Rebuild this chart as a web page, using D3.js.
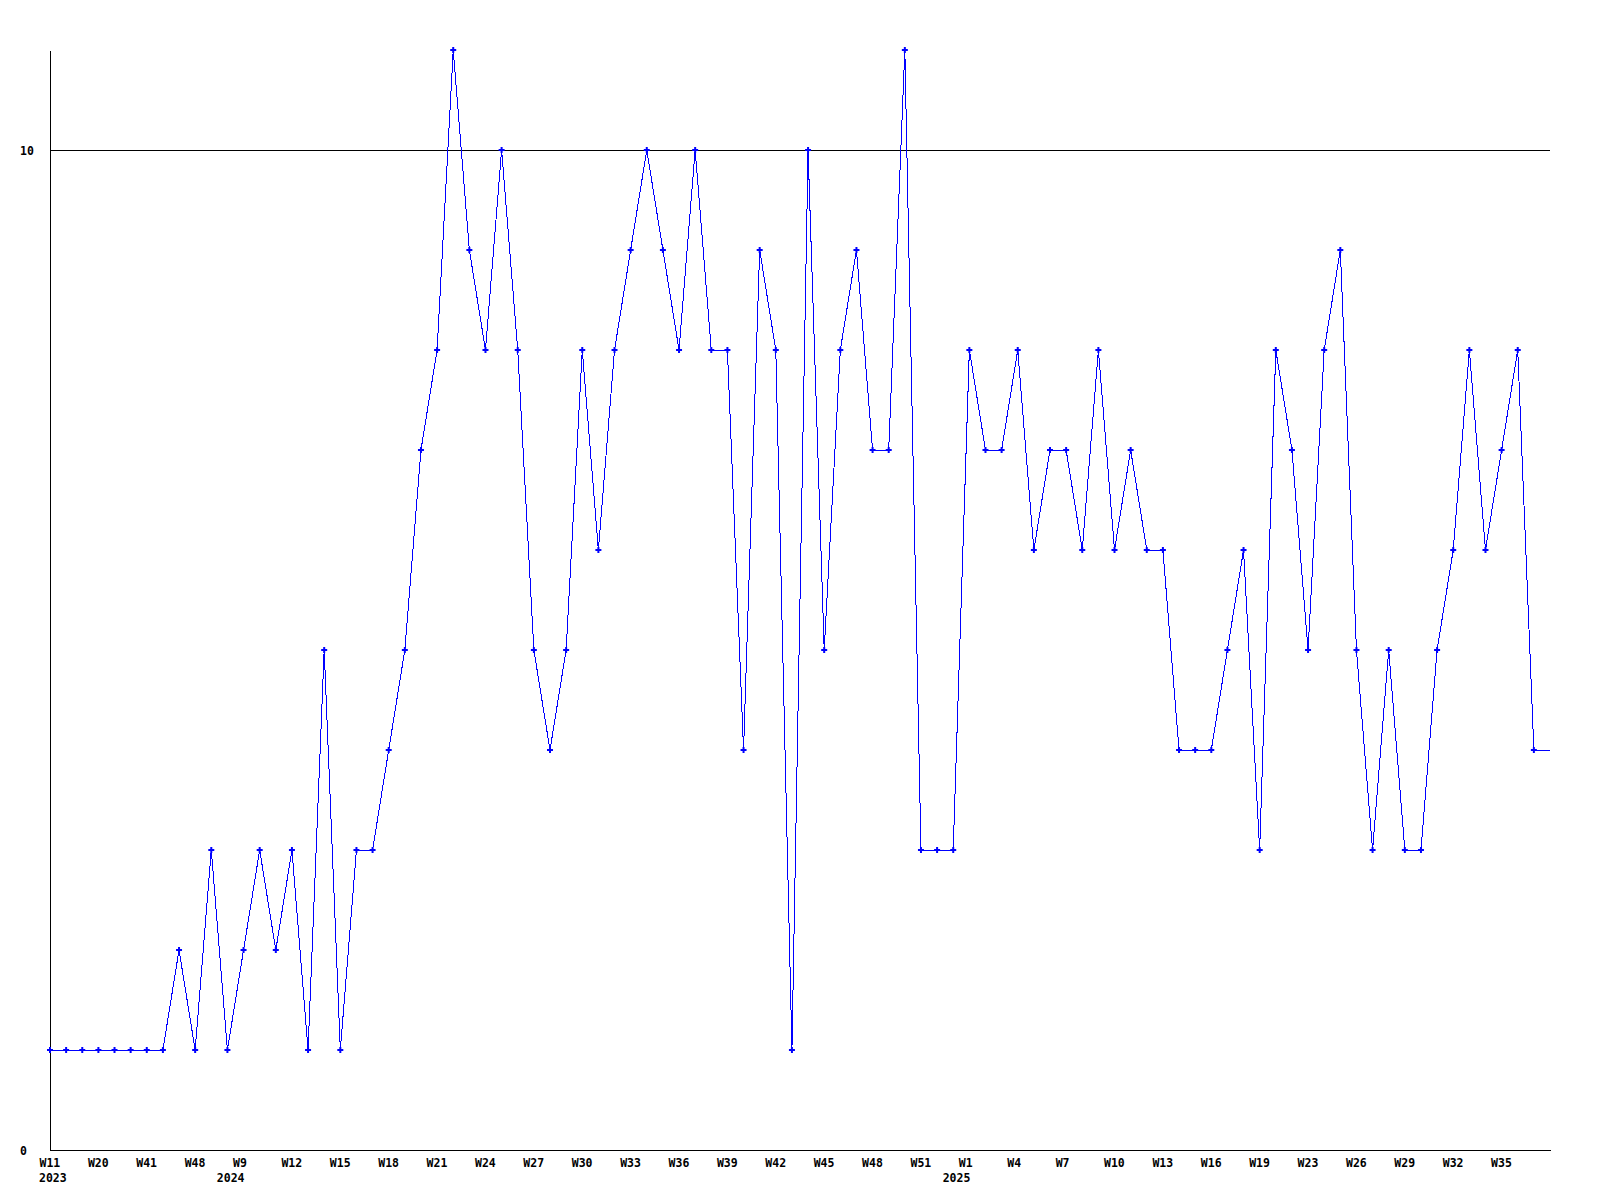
<!DOCTYPE html>
<html>
 <head>
  <meta charset="utf-8" />
  <title>Weekly count</title>
  <style>
   body, html {
    margin: 0;
    padding: 0;
    background: #fff;
    overflow: hidden;
   }
   svg text {
    font-family: "DejaVu Sans Mono", "Liberation Mono", monospace;
    font-weight: bold;
    font-size: 11.5px;
    fill: #000;
   }
   .axis path, .grid {
    stroke: #000;
    stroke-width: 1;
    shape-rendering: crispEdges;
   }
   .series {
    fill: none;
    stroke: #00f;
    stroke-width: 1;
    shape-rendering: crispEdges;
   }
   .dot {
    fill: #00f;
   }
  </style>
  <script src="https://cdnjs.cloudflare.com/ajax/libs/d3/7.9.0/d3.min.js"></script>
 </head>
 <body>
  <svg width="1600" height="1200"></svg>
  <script>
   // one value per data point, left to right
   const values = [
    1, 1, 1, 1, 1, 1, 1, 1, 2, 1, 3, 1, 2, 3, 2, 3, 1, 5, 1, 3,
    3, 4, 5, 7, 8, 11, 9, 8, 10, 8, 5, 4, 5, 8, 6, 8, 9, 10, 9, 8,
    10, 8, 8, 4, 9, 8, 1, 10, 5, 8, 9, 7, 7, 11, 3, 3, 3, 8, 7, 7,
    8, 6, 7, 7, 6, 8, 6, 7, 6, 6, 4, 4, 4, 5, 6, 3, 8, 7, 5, 8,
    9, 5, 3, 5, 3, 3, 5, 6, 8, 6, 7, 8, 4
   ];

   // a week label under every third point
   const weekLabels = [
    "W11", "W20", "W41", "W48", "W9", "W12", "W15", "W18", "W21", "W24",
    "W27", "W30", "W33", "W36", "W39", "W42", "W45", "W48", "W51", "W1",
    "W4", "W7", "W10", "W13", "W16", "W19", "W23", "W26", "W29", "W32", "W35"
   ];
   const labelStep = 3;

   const yearIndex = [0, 12, 57];
   const yearLabels = ["2023", "2024", "2025"];

   const yTicks = [0, 10];
   const yMax = 11;

   const svg = d3.select("svg");

   const x = d3.scaleLinear().domain([0, values.length]).range([50, 1550]);
   const y = d3.scaleLinear().domain([0, yMax]).range([1150, 50]);

   // gridline at 10
   svg.append("line")
    .attr("class", "grid")
    .attr("x1", x(0))
    .attr("x2", x(values.length))
    .attr("y1", y(10))
    .attr("y2", y(10));

   const tickIdx = weekLabels.map((d, i) => i * labelStep);

   const xAxis = svg.append("g")
    .attr("class", "axis")
    .attr("transform", `translate(0,${y(0)})`)
    .call(d3.axisBottom(x)
     .tickValues(tickIdx)
     .tickFormat((d, i) => weekLabels[i])
     .tickSize(0));
   xAxis.selectAll("text")
    .attr("text-anchor", "start")
    .attr("x", -11)
    .attr("y", 17)
    .attr("dy", 0);

   const yAxis = svg.append("g")
    .attr("class", "axis")
    .attr("transform", `translate(${x(0)},0)`)
    .call(d3.axisLeft(y)
     .tickValues(yTicks)
     .tickFormat(d3.format("d"))
     .tickSize(0));
   yAxis.selectAll("text")
    .attr("text-anchor", "start")
    .attr("x", -30)
    .attr("dy", "0.35em");

   svg.append("g")
    .selectAll("text")
    .data(yearLabels)
    .enter().append("text")
    .attr("x", (d, i) => i === 0 ? x(yearIndex[i]) - 11 : x(yearIndex[i]) + 1)
    .attr("y", y(0) + 32)
    .attr("text-anchor", (d, i) => i === 0 ? "start" : "end")
    .text(d => d);

   // last value runs on to the right edge
   const linePts = values.map((v, i) => [i, v]);
   linePts.push([values.length, values[values.length - 1]]);

   svg.append("path")
    .attr("class", "series")
    .attr("d", d3.line().x(d => x(d[0])).y(d => y(d[1]))(linePts));

   svg.append("g")
    .selectAll("path")
    .data(values)
    .enter().append("path")
    .attr("class", "dot")
    .attr("transform", (d, i) => `translate(${x(i)},${y(d)})`)
    .attr("d", d3.symbol(d3.symbolCross, 20));
  </script>
 </body>
</html>
